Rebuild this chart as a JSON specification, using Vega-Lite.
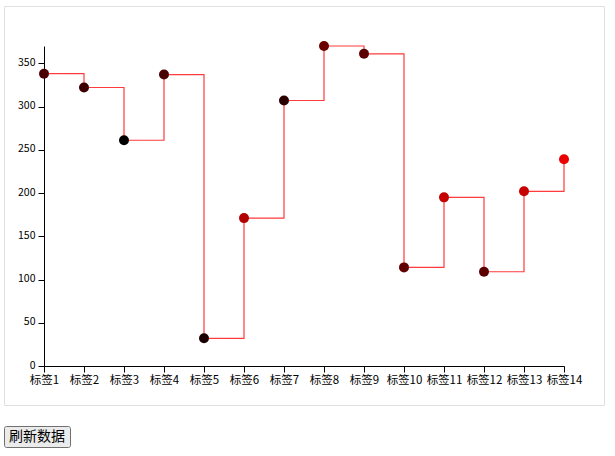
{
  "$schema": "https://vega.github.io/schema/vega-lite/v6.json",
  "padding": {"left": 3, "top": 5, "right": 0, "bottom": 0},
  "background": "white",
  "config": {
    "concat": {"spacing": 19},
    "font": "Noto Sans CJK SC"
  },
  "vconcat": [
    {
      "width": 600,
      "height": 399,
      "view": {"stroke": "#e0e0e0", "fill": "white"},
      "data": {"values": [
        {"label": "标签1", "value": 338},
        {"label": "标签2", "value": 322},
        {"label": "标签3", "value": 261},
        {"label": "标签4", "value": 337},
        {"label": "标签5", "value": 32},
        {"label": "标签6", "value": 171},
        {"label": "标签7", "value": 307},
        {"label": "标签8", "value": 370},
        {"label": "标签9", "value": 361},
        {"label": "标签10", "value": 114},
        {"label": "标签11", "value": 195},
        {"label": "标签12", "value": 109},
        {"label": "标签13", "value": 202},
        {"label": "标签14", "value": 239}
      ]},
      "encoding": {
        "x": {
          "field": "label", "type": "ordinal", "sort": null,
          "scale": {"type": "point", "range": [40, 560], "padding": 0},
          "axis": {
            "title": null, "offset": -39, "labelAngle": 0,
            "domainColor": "black", "tickColor": "black", "tickSize": 6,
            "labelColor": "black", "labelFontSize": 11.5, "labelPadding": 2,
            "labelFont": "Noto Sans CJK SC", "grid": false, "labelOverlap": false
          }
        },
        "y": {
          "field": "value", "type": "quantitative",
          "scale": {"domain": [0, 370], "nice": false, "range": [360, 40]},
          "axis": {
            "title": null, "offset": -40, "values": [0, 50, 100, 150, 200, 250, 300, 350],
            "domainColor": "black", "tickColor": "black", "tickSize": 6,
            "labelColor": "black", "labelFontSize": 10.5, "labelPadding": 3, "labelOffset": -1,
            "labelFont": "Noto Sans CJK SC", "grid": false
          }
        }
      },
      "layer": [
        {
          "mark": {"type": "line", "interpolate": "step-after", "color": "#ff3b3b", "strokeWidth": 1.2}
        },
        {
          "mark": {"type": "point", "filled": true, "opacity": 1, "size": 100},
          "encoding": {
            "color": {
              "field": "label", "type": "nominal", "legend": null,
              "scale": {
                "domain": ["标签1","标签2","标签3","标签4","标签5","标签6","标签7","标签8","标签9","标签10","标签11","标签12","标签13","标签14"],
                "range": ["#4a0000","#3d0000","#000000","#4a0000","#1a0000","#b00000","#2a0000","#6a0000","#5a0000","#600000","#c40000","#5a0000","#c80000","#ea0000"]
              }
            }
          }
        }
      ]
    },
    {
      "width": 66,
      "height": 21,
      "view": {"stroke": "#707070", "fill": "#ebebeb", "cornerRadius": 2},
      "data": {"values": [{"text": "刷新数据"}]},
      "mark": {"type": "text", "fontSize": 14, "color": "black", "font": "Noto Sans CJK SC"},
      "encoding": {"text": {"field": "text"}}
    }
  ]
}
